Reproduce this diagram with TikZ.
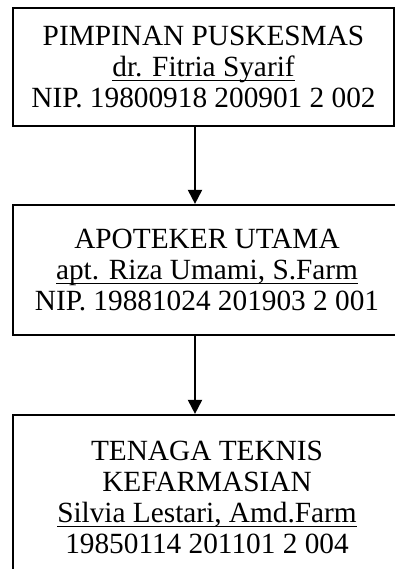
\documentclass[tikz,border=0pt]{standalone}
\usepackage{fontspec}
\setmainfont{Liberation Serif}
\usetikzlibrary{arrows.meta}
\newcommand\myul[1]{\setbox0\hbox{#1}\leavevmode\rlap{\rule[-5pt]{\wd0}{1.4pt}}\box0}
\tikzset{
  orgbox/.style={draw=black, line width=2.2pt, rectangle, align=center, inner sep=0pt,
    font=\fontsize{29.3}{31}\selectfont},
  flow/.style={line width=2pt, -{Triangle[width=14pt,length=14pt]}}
}
\begin{document}
\begin{tikzpicture}[x=1pt,y=-1pt]
\useasboundingbox (0,0) rectangle (395,569);
\clip (0,0) rectangle (395,569);
\node[orgbox, minimum width=381pt, minimum height=118pt] (b1) at (203.5,67)
  {PIMPINAN PUSKESMAS\\ \myul{dr. Fitria Syarif}\\ NIP. 19800918 200901 2 002};
\node[orgbox, minimum width=388pt, minimum height=130pt] (b2) at (207,270)
  {APOTEKER UTAMA\\ \myul{apt. Riza Umami, S.Farm}\\ NIP. 19881024 201903 2 001};
\node[orgbox, minimum width=388pt, minimum height=164pt] (b3) at (207,497)
  {TENAGA TEKNIS\\ KEFARMASIAN\\ \myul{Silvia Lestari, Amd.Farm}\\ 19850114 201101 2 004};
\coordinate (ax) at (195,0);
\draw[flow] (b1.south -| ax) -- (b2.north -| ax);
\draw[flow] (b2.south -| ax) -- (b3.north -| ax);
\end{tikzpicture}
\end{document}
